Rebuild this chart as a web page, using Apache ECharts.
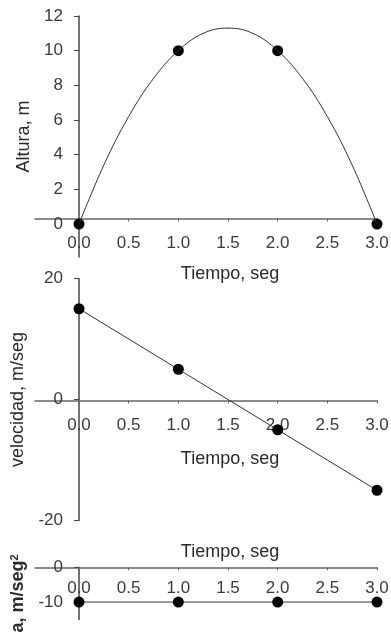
<!DOCTYPE html>
<html>
<head>
<meta charset="utf-8">
<script src="https://cdn.jsdelivr.net/npm/echarts@6/dist/echarts.min.js"></script>
<style>
  html, body { margin: 0; padding: 0; background: #fff; }
  #chart { width: 391px; height: 640px; }
</style>
</head>
<body>
<div id="chart"></div>
<script>
// Time samples for the height curve and its measured height (m)
const curveTime = [0, 0.25, 0.5, 0.75, 1, 1.25, 1.5, 1.75, 2, 2.25, 2.5, 2.75, 3];
const curveHeight = [0, 3.4, 6.2, 8.4, 10, 11.0, 11.3, 11.0, 10, 8.4, 6.2, 3.4, 0];

// Sampled instants (s) and the quantities at each one
const pointTime = [0, 1, 2, 3];
const heightValues = [0, 10, 10, 0];
const velocityValues = [15, 5, -5, -15];
const accelValues = [-10, -10, -10, -10];

// Tick values
const timeTicks = [0, 0.5, 1, 1.5, 2, 2.5, 3];
const heightTicks = [0, 2, 4, 6, 8, 10, 12];
const velocityTicks = [-20, 0, 20];
const accelTicks = [-10, 0];

const FONT = 'Liberation Sans, Arial, sans-serif';
const pairs = (xs, ys) => xs.map((x, i) => [x, ys[i]]);

// Time axis: the line sits inside the plot area, moved up from the grid bottom by `lift` px
function timeAxis(gridIndex, lift, nameGap, labelMargin) {
  return {
    type: 'value',
    gridIndex: gridIndex,
    min: -0.443,
    max: 3,
    position: 'bottom',
    offset: -lift,
    name: 'Tiempo, seg',
    nameLocation: 'middle',
    nameGap: nameGap,
    nameTextStyle: { fontFamily: FONT, fontSize: 18, color: '#2a2a2a', padding: [0, 0, 0, 48] },
    axisLine: { show: true, onZero: false, lineStyle: { color: '#666', width: 1.6 } },
    axisTick: { show: true, length: 3, customValues: timeTicks, lineStyle: { color: '#666', width: 1 } },
    axisLabel: {
      customValues: timeTicks,
      margin: labelMargin,
      fontFamily: FONT, fontSize: 17, color: '#3a3a3a',
      formatter: v => v.toFixed(1)
    },
    splitLine: { show: false }
  };
}

// Value axis drawn at t = 0, i.e. 44 px right of the grid's left edge
function valueAxis(gridIndex, min, max, ticks, name, gap, nameStyle) {
  return {
    type: 'value',
    gridIndex: gridIndex,
    min: min,
    max: max,
    position: 'left',
    offset: -44,
    name: name,
    nameLocation: 'middle',
    nameRotate: 90,
    nameGap: gap,
    nameTextStyle: nameStyle || { fontFamily: FONT, fontSize: 18, color: '#2a2a2a' },
    axisLine: { show: true, onZero: false, lineStyle: { color: '#444', width: 1.5 } },
    axisTick: { show: true, length: 5, customValues: ticks, lineStyle: { color: '#444', width: 1 } },
    axisLabel: { customValues: ticks, margin: 16, fontFamily: FONT, fontSize: 17, color: '#3a3a3a' },
    splitLine: { show: false }
  };
}

const chart = echarts.init(document.getElementById('chart'), null, { renderer: 'canvas' });

chart.setOption({
  animation: false,
  backgroundColor: '#fff',
  grid: [
    { left: 35, right: 14, top: 16, bottom: 383, outerBoundsMode: 'none' },
    { left: 35, right: 14, top: 278.5, bottom: 119.5, outerBoundsMode: 'none' },
    { left: 35, right: 14, top: 567.3, bottom: 20.6, outerBoundsMode: 'none' }
  ],
  xAxis: [
    timeAxis(0, 38.5, 47, 16),
    timeAxis(1, 120, 50, 16),
    timeAxis(2, 52.1, -24, 13)
  ],
  yAxis: [
    valueAxis(0, -1.9, 12, heightTicks, 'Altura, m', 44),
    valueAxis(1, -20, 20, velocityTicks, 'velocidad, m/seg', 48),
    valueAxis(2, -15, 0, accelTicks, 'a, m/seg{sup|2}', 50, {
      fontFamily: FONT, fontSize: 18, fontWeight: 'bold', color: '#2a2a2a',
      rich: { sup: { fontFamily: FONT, fontSize: 11, fontWeight: 'bold', color: '#2a2a2a', verticalAlign: 'top' } }
    })
  ],
  series: [
    {
      type: 'line', xAxisIndex: 0, yAxisIndex: 0,
      data: pairs(curveTime, curveHeight),
      smooth: 0.4, showSymbol: false,
      lineStyle: { color: '#333', width: 1 }
    },
    {
      type: 'scatter', xAxisIndex: 0, yAxisIndex: 0,
      data: pairs(pointTime, heightValues),
      symbol: 'circle', symbolSize: 11,
      itemStyle: { color: '#000', opacity: 1 }
    },
    {
      type: 'line', xAxisIndex: 1, yAxisIndex: 1,
      data: pairs(pointTime, velocityValues),
      symbol: 'circle', symbolSize: 11, showSymbol: true,
      lineStyle: { color: '#333', width: 1 },
      itemStyle: { color: '#000', opacity: 1 }
    },
    {
      type: 'line', xAxisIndex: 2, yAxisIndex: 2,
      data: pairs(pointTime, accelValues),
      symbol: 'circle', symbolSize: 11, showSymbol: true,
      lineStyle: { color: '#333', width: 1 },
      itemStyle: { color: '#000', opacity: 1 }
    }
  ]
});
</script>
</body>
</html>
